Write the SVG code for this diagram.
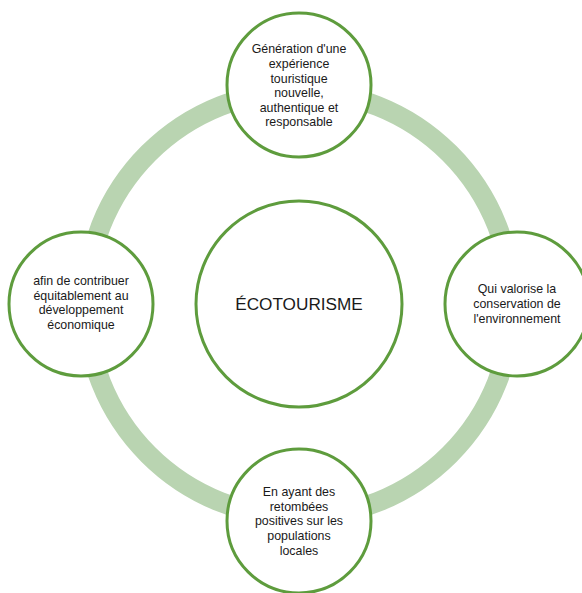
<svg xmlns="http://www.w3.org/2000/svg" width="582" height="593" viewBox="0 0 582 593">
  <style>
    .node { fill: #ffffff; stroke: #5E9C3D; stroke-width: 3; }
    .ring { fill: none; stroke: #B9D4B1; stroke-width: 20; }
    .lbl { font-family: "Liberation Sans", Arial, sans-serif; font-size: 12.4px; fill: #1a1a1a; text-anchor: middle; }
    .title { font-family: "Liberation Sans", Arial, sans-serif; font-size: 17.2px; fill: #1a1a1a; text-anchor: middle; }
  </style>
  <rect x="0" y="0" width="582" height="593" fill="#ffffff"/>
  <g id="connectors">
    <circle class="ring" cx="299" cy="304" r="213"/>
  </g>
  <g id="node-center">
    <circle class="node" cx="299" cy="304" r="103"/>
    <text class="title" x="299" y="310">ÉCOTOURISME</text>
  </g>
  <g id="node-top">
    <circle class="node" cx="299" cy="85" r="72"/>
    <text class="lbl" x="299" y="53.3">Génération d'une</text>
    <text class="lbl" x="299" y="67.9">expérience</text>
    <text class="lbl" x="299" y="82.5">touristique</text>
    <text class="lbl" x="299" y="97.1">nouvelle,</text>
    <text class="lbl" x="299" y="111.7">authentique et</text>
    <text class="lbl" x="299" y="126.3">responsable</text>
  </g>
  <g id="node-right">
    <circle class="node" cx="517" cy="304" r="72"/>
    <text class="lbl" x="517" y="293.3">Qui valorise la</text>
    <text class="lbl" x="517" y="308">conservation de</text>
    <text class="lbl" x="517" y="322.7">l'environnement</text>
  </g>
  <g id="node-bottom">
    <circle class="node" cx="299" cy="521" r="72"/>
    <text class="lbl" x="299" y="496">En ayant des</text>
    <text class="lbl" x="299" y="510.7">retombées</text>
    <text class="lbl" x="299" y="525.4">positives sur les</text>
    <text class="lbl" x="299" y="540">populations</text>
    <text class="lbl" x="299" y="554.7">locales</text>
  </g>
  <g id="node-left">
    <circle class="node" cx="81" cy="304" r="72"/>
    <text class="lbl" x="81" y="285">afin de contribuer</text>
    <text class="lbl" x="81" y="299.7">équitablement au</text>
    <text class="lbl" x="81" y="314.4">développement</text>
    <text class="lbl" x="81" y="329.1">économique</text>
  </g>
</svg>
